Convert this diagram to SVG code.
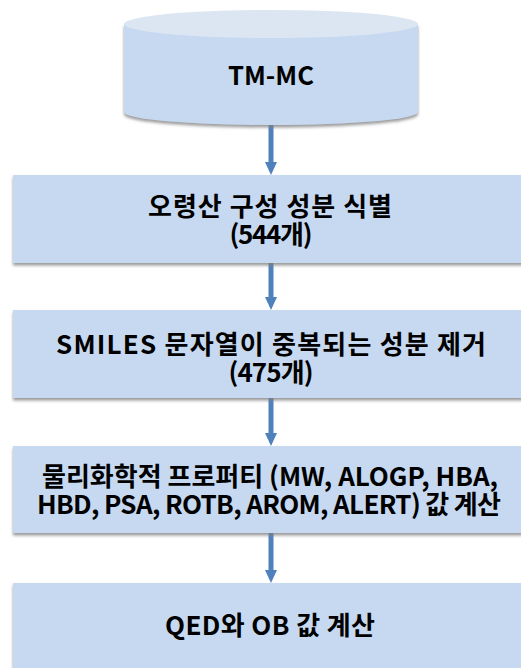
<svg xmlns="http://www.w3.org/2000/svg" width="521" height="668" viewBox="0 0 521 668">
<style>
.box{fill:#C6D9F0;}
.top{fill:#DCE6F2;}
.txt{font-family:"Noto Sans CJK KR","Noto Sans",sans-serif;font-weight:bold;font-size:26px;fill:#000;text-anchor:middle;}
.arr{stroke:#4F81BD;stroke-width:5;fill:none;}
.head{fill:#4F81BD;}
</style>
<defs>
<filter id="sh" x="-5%" y="-10%" width="110%" height="130%">
<feDropShadow dx="0" dy="2.5" stdDeviation="1.5" flood-color="#808080" flood-opacity="0.8"/>
</filter>
</defs>
<g id="connectors">
<line class="arr" x1="271" y1="125" x2="271" y2="163"/>
<path class="head" d="M265,162 L277,162 L271,175 Z"/>
<line class="arr" x1="271" y1="263" x2="271" y2="298"/>
<path class="head" d="M265,297 L277,297 L271,310 Z"/>
<line class="arr" x1="271" y1="398" x2="271" y2="434"/>
<path class="head" d="M265,433 L277,433 L271,446 Z"/>
<line class="arr" x1="271" y1="533" x2="271" y2="571"/>
<path class="head" d="M265,570 L277,570 L271,583 Z"/>
</g>
<g id="tmmc">
<path class="box" filter="url(#sh)" d="M124,24 L124,112 A147,13 0 0 0 418,112 L418,24 Z"/>
<ellipse class="top" cx="271" cy="24" rx="147" ry="14"/>
<text class="txt" x="271" y="85" textLength="86" lengthAdjust="spacingAndGlyphs">TM-MC</text>
</g>
<g id="step1">
<rect class="box" filter="url(#sh)" x="13" y="175" width="530" height="88"/>
<text class="txt"><tspan x="270" y="216" textLength="244" lengthAdjust="spacing">오령산 구성 성분 식별</tspan><tspan x="271" y="244" textLength="83" lengthAdjust="spacing">(544개)</tspan></text>
</g>
<g id="step2">
<rect class="box" filter="url(#sh)" x="13" y="310" width="530" height="88"/>
<text class="txt"><tspan x="271" y="354" textLength="430" lengthAdjust="spacing">SMILES 문자열이 중복되는 성분 제거</tspan><tspan x="271" y="382" textLength="85" lengthAdjust="spacing">(475개)</tspan></text>
</g>
<g id="step3">
<rect class="box" filter="url(#sh)" x="13" y="446" width="530" height="87"/>
<text class="txt"><tspan x="270" y="486" textLength="456" lengthAdjust="spacing">물리화학적 프로퍼티 (MW, ALOGP, HBA,</tspan><tspan x="269" y="514" textLength="464" lengthAdjust="spacing">HBD, PSA, ROTB, AROM, ALERT) 값 계산</tspan></text>
</g>
<g id="step4">
<rect class="box" filter="url(#sh)" x="13" y="583" width="530" height="100"/>
<text class="txt" x="270" y="635" textLength="210" lengthAdjust="spacing">QED와 OB 값 계산</text>
</g>
</svg>
